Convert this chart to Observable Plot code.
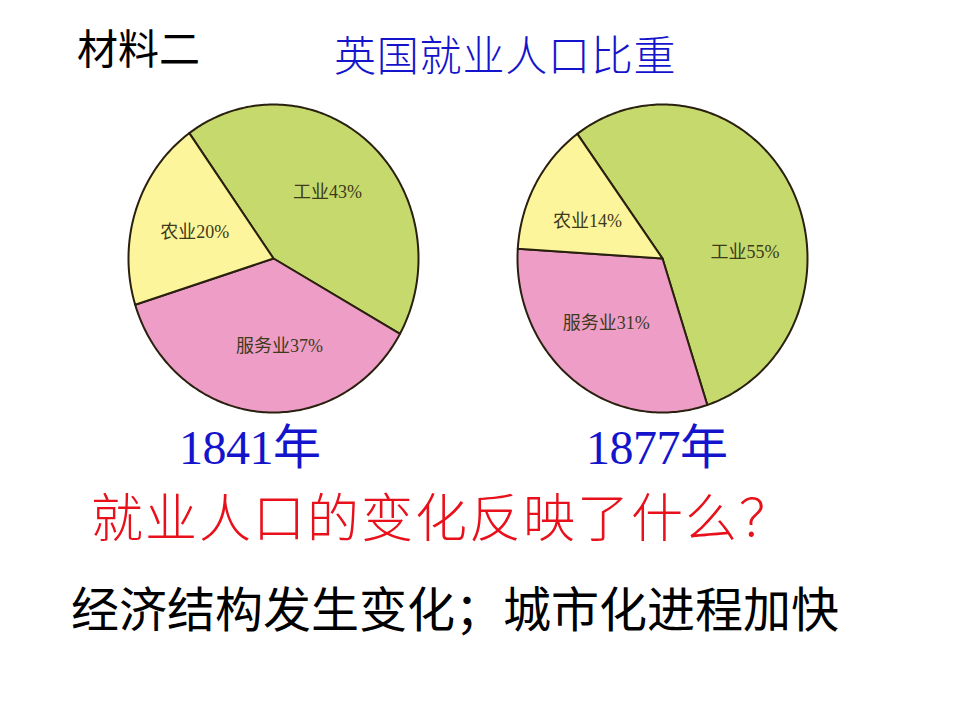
<!DOCTYPE html>
<html>
<head>
<meta charset="utf-8">
<script src="https://cdn.jsdelivr.net/npm/d3@7"></script>
<script src="https://cdn.jsdelivr.net/npm/@observablehq/plot@0.6"></script>
<style>
  html, body { margin: 0; padding: 0; background: #fff; }
  #page { position: relative; width: 960px; height: 720px; overflow: hidden; background: #fff; }
  .t { position: absolute; white-space: nowrap; line-height: 1; }
  #plot { position: absolute; left: 0; top: 90px; }
</style>
</head>
<body>
<div id="page">
  <div class="t" id="material" style="left:77px; top:26px; font-family:'Noto Sans CJK SC','Noto Sans',sans-serif; font-size:41px; color:#000;">材料二</div>
  <div class="t" id="title" style="left:334px; top:32px; font-family:'Noto Sans CJK SC',serif; font-weight:300; font-size:42px; letter-spacing:0.8px; color:#1414cc;"></div>
  <div class="t" id="year1" style="left:179px; top:424px; font-family:'Liberation Serif','Noto Sans CJK SC',serif; font-size:48px; letter-spacing:-0.5px; color:#1414cc;"></div>
  <div class="t" id="year2" style="left:586px; top:424px; font-family:'Liberation Serif','Noto Sans CJK SC',serif; font-size:48px; letter-spacing:-0.5px; color:#1414cc;"></div>
  <div class="t" id="question" style="left:91px; top:489px; font-family:'Noto Sans CJK SC',serif; font-weight:300; font-size:52px; letter-spacing:2px; color:#e8101a;"></div>
  <div class="t" id="answer" style="left:71px; top:582px; font-family:'Noto Sans CJK SC','Noto Sans',sans-serif; font-size:48px; color:#000;"></div>
  <div id="plot"></div>
</div>
<script>
// ---- data ----
const title = "英国就业人口比重";
const years = ["1841年", "1877年"];
const sectors = ["工业", "服务业", "农业"];
const share1841 = [43, 37, 20];
const share1877 = [55, 31, 14];
const question = "就业人口的变化反映了什么？";
const answer = "经济结构发生变化；城市化进程加快";

// ---- styles / layout ----
const sectorColors = ["#c5d96c", "#ee9dc6", "#fdf59b"];
const outline = "#2a200f";
const labelColor = "#3d3a1a";
const W = 960, H = 340;
const RX = 145, RY = 154;          // pixel radii (pies are slightly oval)
const centersPx = [273, 662];      // pie centres in px
const cyPx = 168;
const startDeg = [-35.5, -36];     // where the first slice (工业) begins, clockwise from 12 o'clock
const labelRadius = 0.57;
const labelNudgeDeg = [[-1, -10, -1], [23, 5, -4]];

document.getElementById("title").textContent = title;
document.getElementById("year1").textContent = years[0];
document.getElementById("year2").textContent = years[1];
document.getElementById("question").textContent = question;
document.getElementById("answer").textContent = answer;

const rad = Math.PI / 180;
const offsets = centersPx.map(c => (c - centersPx[0]) / RX);
const xDomain = [-centersPx[0] / RX, (W - centersPx[0]) / RX];
const yDomain = [-(H - cyPx) / RY, cyPx / RY];

const pies = [share1841, share1877].map((vals, p) => {
  const rows = sectors.map((s, i) => ({sector: s, value: vals[i]}));
  const a0 = startDeg[p] * rad;
  return d3.pie().sort(null).value(d => d.value).startAngle(a0).endAngle(a0 + 2 * Math.PI)(rows)
    .map(a => ({...a, pie: p}));
});

const outlinePts = [];
const labels = [];
pies.forEach((arcs, p) => {
  const ox = offsets[p];
  arcs.forEach((a, i) => {
    const key = p + "-" + i;
    outlinePts.push({key, sector: a.data.sector, x: ox, y: 0});
    const n = Math.max(8, Math.ceil((a.endAngle - a.startAngle) / rad));
    for (let k = 0; k <= n; k++) {
      const t = a.startAngle + (a.endAngle - a.startAngle) * k / n;
      outlinePts.push({key, sector: a.data.sector, x: ox + Math.sin(t), y: Math.cos(t)});
    }
    const mid = (a.startAngle + a.endAngle) / 2 + labelNudgeDeg[p][i] * rad;
    labels.push({
      x: ox + labelRadius * Math.sin(mid),
      y: labelRadius * Math.cos(mid),
      text: a.data.sector + a.data.value + "%"
    });
  });
});

const chart = Plot.plot({
  width: W,
  height: H,
  margin: 0,
  style: {background: "transparent", overflow: "visible"},
  x: {domain: xDomain, range: [0, W], axis: null},
  y: {domain: yDomain, range: [H, 0], axis: null},
  color: {domain: sectors, range: sectorColors},
  marks: [
    Plot.line(outlinePts, {
      x: "x", y: "y", z: "key", fill: "sector",
      stroke: outline, strokeWidth: 2, curve: "linear-closed", strokeLinejoin: "round"
    }),
    Plot.text(labels, {
      x: "x", y: "y", text: "text",
      fill: labelColor, fontSize: 18, fontWeight: 400,
      fontFamily: "'Liberation Serif','Noto Sans CJK SC',serif"
    })
  ]
});
document.getElementById("plot").appendChild(chart);
</script>
</body>
</html>
